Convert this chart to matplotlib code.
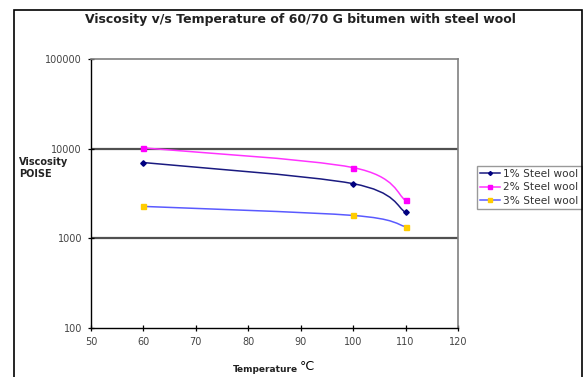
"""Viscosity v/s Temperature, 60/70 G bitumen with steel wool (Excel style chart)."""
import matplotlib
matplotlib.use("Agg")
import matplotlib.pyplot as plt
import numpy as np
from matplotlib.path import Path
from matplotlib.patches import PathPatch, Rectangle
from matplotlib.lines import Line2D

plt.rcParams['font.family'] = ['DejaVu Sans']

temps = [60, 100, 110]
steel_1 = [7000, 4070, 1950]
steel_2 = [10200, 6150, 2650]
steel_3 = [2270, 1800, 1350]
labels = ["1% Steel wool", "2% Steel wool", "3% Steel wool"]
xticks = [50, 60, 70, 80, 90, 100, 110, 120]
yticks = [100, 1000, 10000, 100000]


def smooth_path(xs, ys):
    # Excel-like smoothed line: cubic bezier through the points, in log-y space
    x = np.asarray(xs, float)
    ly = np.log10(np.asarray(ys, float))
    verts = [(x[0], ly[0])]
    codes = [Path.MOVETO]
    n = len(x)
    for i in range(n - 1):
        p0 = (x[max(i - 1, 0)], ly[max(i - 1, 0)])
        p1 = (x[i], ly[i])
        p2 = (x[i + 1], ly[i + 1])
        p3 = (x[min(i + 2, n - 1)], ly[min(i + 2, n - 1)])
        t = 1 / 6.0
        c1 = (p1[0] + (p2[0] - p0[0]) * t, p1[1] + (p2[1] - p0[1]) * t)
        c2 = (p2[0] - (p3[0] - p1[0]) * t, p2[1] - (p3[1] - p1[1]) * t)
        verts += [c1, c2, p2]
        codes += [Path.CURVE4] * 3
    verts = [(vx, 10 ** vy) for vx, vy in verts]
    return Path(verts, codes)


fig = plt.figure(figsize=(5.88, 3.77), dpi=100)
# outer chart frame, right of it the picture is cut (white)
fig.patches.append(Rectangle((14 / 588, -0.05), (582 - 14) / 588, 1 - 10 / 377 + 0.05,
                             transform=fig.transFigure, fill=False,
                             ec="black", lw=1.2, zorder=11))
fig.patches.append(Rectangle((583 / 588, 0), 0.1, 1, transform=fig.transFigure,
                             fc="white", ec="none", zorder=10))

ax = fig.add_axes([91 / 588, 1 - 328 / 377, 367 / 588, 269 / 377])
ax.set_yscale("log")
ax.set_xlim(50, 120)
ax.set_ylim(100, 100000)

for g in [1000, 10000]:
    ax.axhline(g, color="#505050", lw=1.6, zorder=1)

series = [
    (steel_1, "#1a1a80", "#000080", "D", 2.8),
    (steel_2, "#ff33ff", "#ff00ff", "s", 3.6),
    (steel_3, "#5a5aff", "#ffcc00", "s", 3.6),
]
for (vals, lc, mc, mk, ms), lab in zip(series, labels):
    path = smooth_path(temps, vals)
    disp = ax.transData.transform(path.vertices)
    ax.add_artist(PathPatch(Path(disp, path.codes), fill=False, ec=lc, lw=1.1,
                            transform=None, zorder=3))
    ax.plot(temps, vals, ls="none", marker=mk, ms=ms, mfc=mc, mec=mc, zorder=4)

leg_handles = [Line2D([], [], color=s[1], lw=1.1, marker=s[3], ms=s[4] - 0.8,
                      mfc=s[2], mec=s[2]) for s in series]
leg = ax.legend(leg_handles, labels, loc="upper left",
                bbox_to_anchor=(477 / 588, 1 - 166 / 377),
                bbox_transform=fig.transFigure, frameon=True,
                prop={"size": 7.6},
                fancybox=False, edgecolor="#808080", handlelength=1.9,
                handletextpad=0.3, borderpad=0.3, labelspacing=0.3,
                borderaxespad=0)
leg.get_frame().set_linewidth(1.0)
for t in leg.get_texts():
    t.set_color("#333333")

ax.set_xticks(xticks)
ax.set_yticks(yticks)
ax.set_yticklabels([str(v) for v in yticks])
ax.minorticks_off()
ax.tick_params(axis="both", direction="inout", length=5, width=0.9,
               labelsize=7, labelcolor="#444444", pad=4)

for s in ["top", "right"]:
    ax.spines[s].set_color("#808080")
    ax.spines[s].set_linewidth(1.2)
for s in ["left", "bottom"]:
    ax.spines[s].set_color("black")
    ax.spines[s].set_linewidth(1.0)

fig.text(300 / 588, 1 - 19 / 377,
         "Viscosity v/s Temperature of 60/70 G bitumen with steel wool",
         ha="center", va="center", fontsize=9, fontweight="bold", color="#222222")
fig.text(19 / 588, 1 - 168 / 377, "Viscosity\nPOISE", ha="left", va="center",
         fontsize=7, fontweight="bold", linespacing=1.2, color="#222222")
fig.text(298 / 588, 1 - 369 / 377, "Temperature", ha="right", va="center",
         fontsize=6.5, fontweight="bold", color="#222222")
fig.text(300 / 588, 1 - 367 / 377, "°C", ha="left", va="center", fontsize=9)

fig.savefig("out.png", dpi=100)
